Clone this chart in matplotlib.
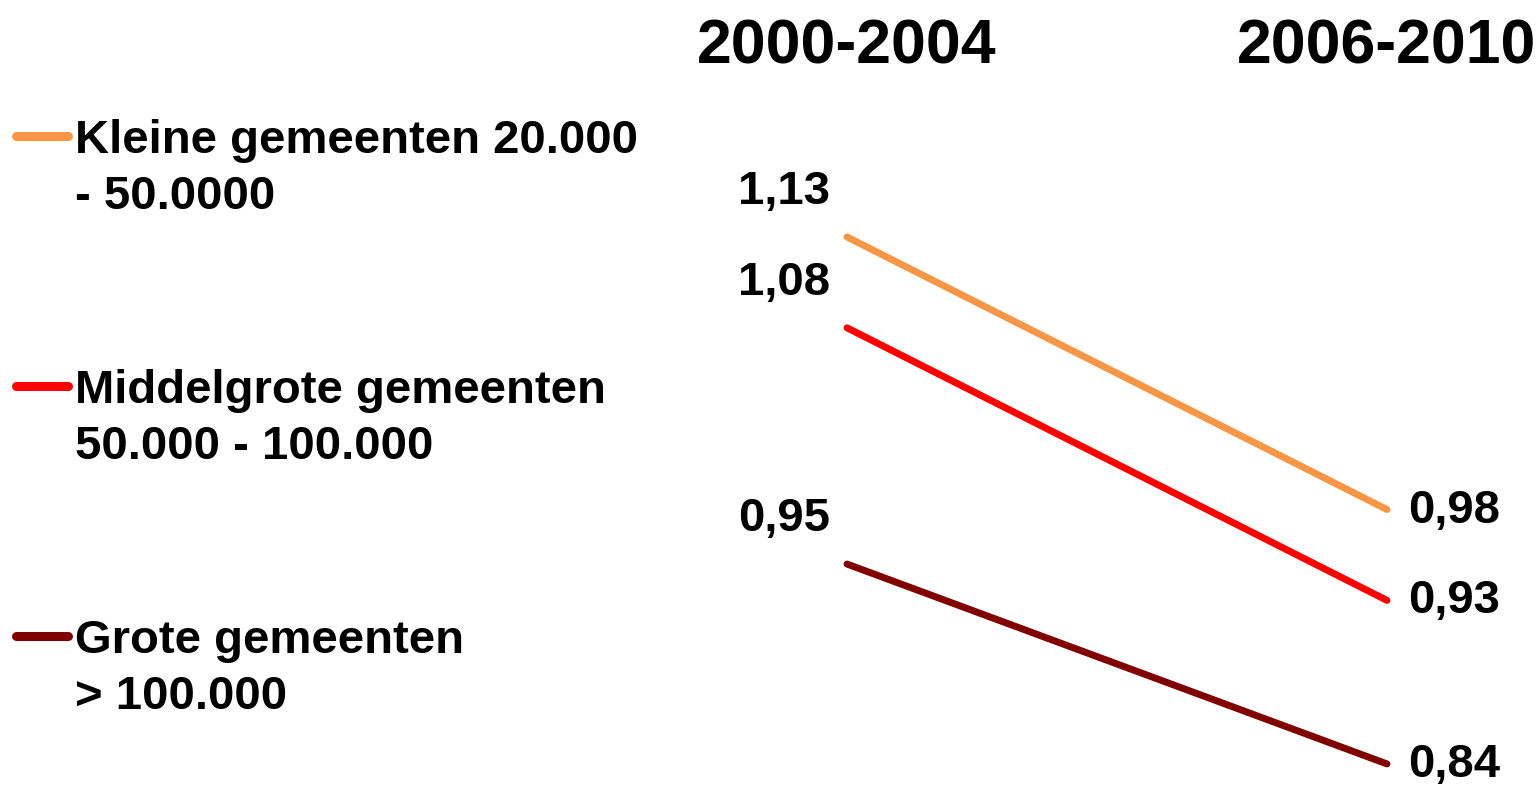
import matplotlib
matplotlib.use("Agg")
import matplotlib.pyplot as plt
from matplotlib.lines import Line2D

periods = ["2000-2004", "2006-2010"]
series_names = ["Kleine gemeenten 20.000\n- 50.0000",
                "Middelgrote gemeenten\n50.000 - 100.000",
                "Grote gemeenten\n> 100.000"]
start_values = [1.13, 1.08, 0.95]
end_values = [0.98, 0.93, 0.84]
colors = ["#F79646", "#FF0000", "#800000"]

plt.rcParams['font.family'] = ['Liberation Sans', 'DejaVu Sans']
W, H = 1539, 791
fig = plt.figure(figsize=(W / 100, H / 100), dpi=100)
ax = fig.add_axes([0, 0, 1, 1])
ax.set_xlim(-1.5685, 1.2815)
ax.set_ylim(0.8251, 1.2604)
ax.axis('off')

def fmt(v):
    return f"{v:.2f}".replace('.', ',')

for s, e, c in zip(start_values, end_values, colors):
    ax.plot([0, 1], [s, e], color=c, lw=5, solid_capstyle='round')
    ax.annotate(fmt(s), (0, s), xytext=(-17, 33), textcoords='offset pixels',
                ha='right', va='baseline', fontsize=34, fontweight='bold')
    ax.annotate(fmt(e), (1, e), xytext=(21, -13), textcoords='offset pixels',
                ha='left', va='baseline', fontsize=34, fontweight='bold')

# Column headers
for i, p in enumerate(periods):
    ax.annotate(p, (i, 0), xycoords=('data', 'figure pixels'),
                xytext=(0, H - 63), textcoords=('offset pixels', 'figure pixels'),
                ha='center', va='baseline', fontsize=45, fontweight='bold')

# Manual legend
legend_y = [136, 386, 636]
for name, c, ly in zip(series_names, colors, legend_y):
    yf = 1 - ly / H
    fig.add_artist(Line2D([16 / W, 68 / W], [yf, yf], color=c, lw=6.5,
                          solid_capstyle='round', transform=fig.transFigure))
    lines = name.split('\n')
    for k, t in enumerate(lines):
        base = ly + 17 + k * 56
        fig.text(75 / W, 1 - base / H, t, ha='left', va='baseline',
                 fontsize=34, fontweight='bold')

fig.savefig("out.png", dpi=100)
